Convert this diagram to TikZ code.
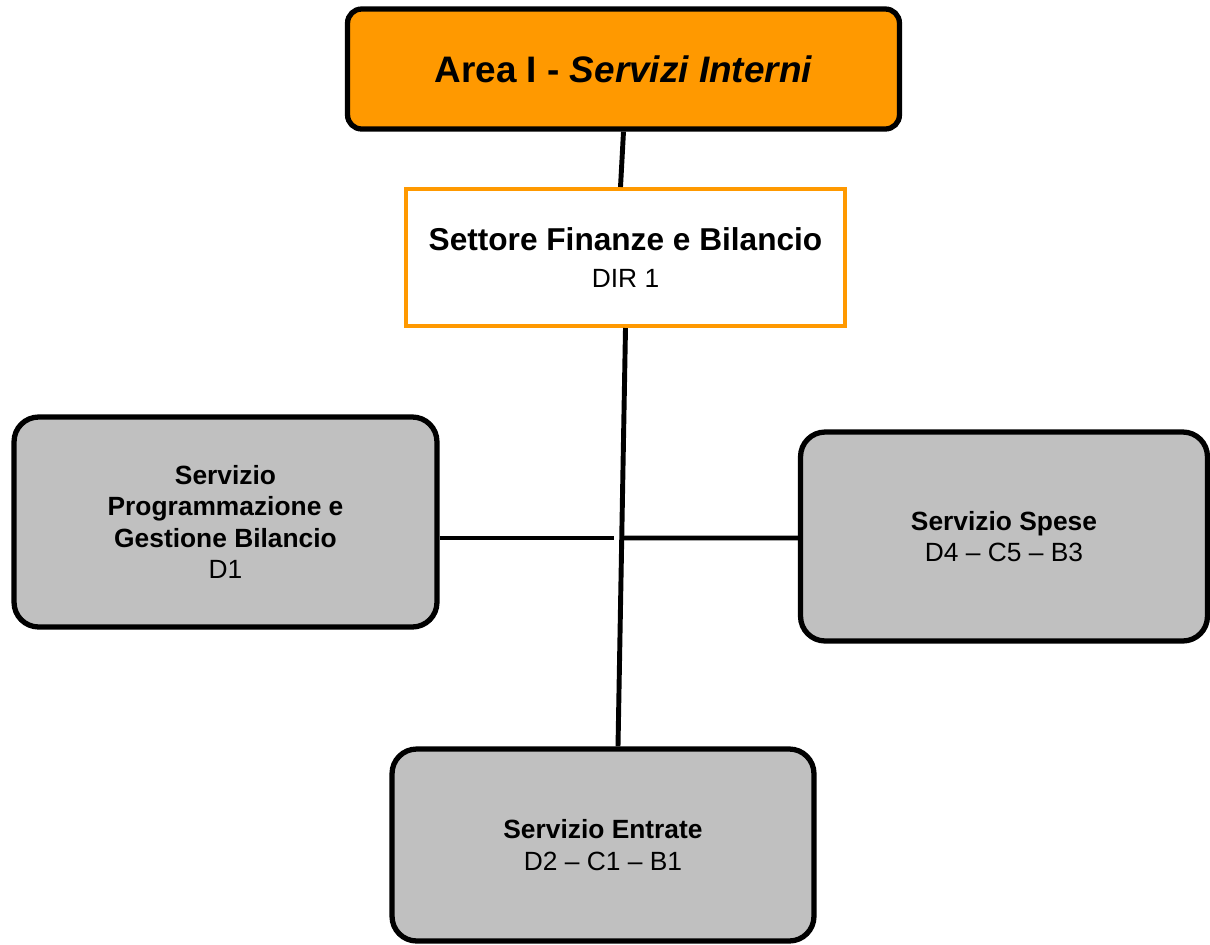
\documentclass[tikz,border=0pt]{standalone}
\usepackage{fontspec}
\setmainfont{Liberation Sans}
\usetikzlibrary{calc}
\definecolor{areaorange}{HTML}{FF9900}
\definecolor{servgray}{HTML}{C0C0C0}

\begin{document}
\begin{tikzpicture}[x=0.02cm, y=-0.02cm,
	areabox/.style={draw=black, line width=3pt, fill=areaorange, rounded corners=8pt, align=center},
	servbox/.style={draw=black, line width=3pt, fill=servgray, rounded corners=14pt, align=center, font=\fontsize{15}{18}\selectfont},
	link/.style={line width=2.8pt}]
	\useasboundingbox (0,0) rectangle (1210,944);
	\node[areabox, minimum width=11.04cm, minimum height=2.4cm, font=\fontsize{21}{25}\selectfont\bfseries] (area) at (623.5,69) {Area I - \textit{Servizi Interni}};
	\node[draw=areaorange, line width=2.3pt, fill=white, minimum width=8.78cm, minimum height=2.74cm, align=center] (settore) at (625.5,257.5)
		{{\fontsize{18}{21}\selectfont\bfseries Settore Finanze e Bilancio}\\[9pt]{\fontsize{15}{18}\selectfont DIR 1}};
	\node[servbox, minimum width=8.46cm, minimum height=4.2cm] (prog) at (225.5,522)
		{\textbf{Servizio}\\\textbf{Programmazione e}\\\textbf{Gestione Bilancio}\\D1};
	\node[servbox, minimum width=8.14cm, minimum height=4.18cm] (spese) at (1004,536.5)
		{\textbf{Servizio Spese}\\D4 -- C5 -- B3};
	\node[servbox, minimum width=8.44cm, minimum height=3.84cm] (entrate) at (603,845)
		{\textbf{Servizio Entrate}\\D2 -- C1 -- B1};
	\coordinate (gapl) at (614,538);
	\coordinate (gapr) at (622,538);
	\draw[link] (area.south) -- ($(settore.north)+(-5,0)$);
	\draw[link] (settore.south) -- ($(entrate.north)+(15,0)$);
	\draw[link] ($(prog.east)+(0,16)$) -- (gapl);
	\draw[link] (gapr) -- ($(spese.west)+(0,1.5)$);
\end{tikzpicture}
\end{document}
